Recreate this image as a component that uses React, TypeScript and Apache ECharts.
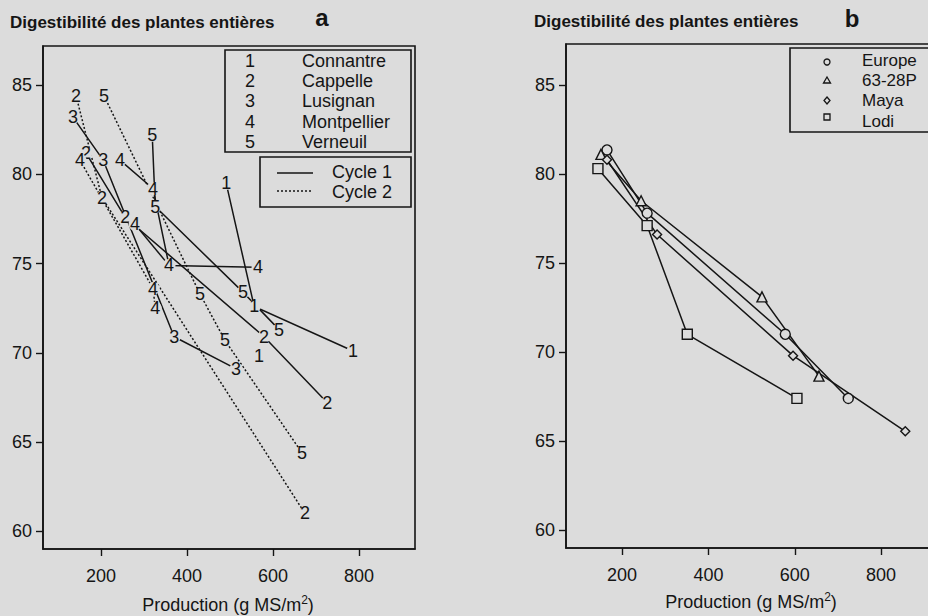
import React, { useEffect, useRef } from 'react';
import * as echarts from 'echarts';

const BG = '#dcdcdc';
const INK = '#151515';
const FONT = '"Liberation Sans", Arial, Helvetica, sans-serif';

// ---------- Panel a : sites (label code) x cycles ----------
const siteCodes = ['1', '2', '3', '4', '5'];
const siteNames = ['Connantre', 'Cappelle', 'Lusignan', 'Montpellier', 'Verneuil'];
const cycleNames = ['Cycle 1', 'Cycle 2'];

const connantreCycle1 = [[491, 79.5], [556, 72.6], [786, 70.1]];
const connantreCycle2 = [[567, 69.8]];
const cappelleCycle1 = [[165, 81.2], [256, 77.6], [579, 70.9], [726, 67.2]];
const cappelleCycle2 = [[142, 84.4], [202, 78.7], [674, 61.0]];
const lusignanCycle1 = [[135, 83.2], [205, 80.8], [370, 70.9], [514, 69.1]];
const montpellierCycle1 = [[244, 80.8], [321, 79.2], [358, 74.9], [565, 74.8]];
const montpellierCycle1b = [[279, 77.2], [358, 74.9]];
const montpellierCycle2 = [[151, 80.8], [321, 73.6], [326, 72.5]];
const verneuilCycle1 = [[319, 82.2], [326, 78.2], [530, 73.4], [614, 71.3]];
const verneuilCycle2 = [[207, 84.4], [430, 73.3], [488, 70.7], [667, 64.4]];

const tracesA = [
  { site: '1', cycle: 1, pts: connantreCycle1 },
  { site: '1', cycle: 2, pts: connantreCycle2 },
  { site: '2', cycle: 1, pts: cappelleCycle1 },
  { site: '2', cycle: 2, pts: cappelleCycle2 },
  { site: '3', cycle: 1, pts: lusignanCycle1 },
  { site: '4', cycle: 1, pts: montpellierCycle1 },
  { site: '4', cycle: 1, pts: montpellierCycle1b },
  { site: '4', cycle: 2, pts: montpellierCycle2 },
  { site: '5', cycle: 1, pts: verneuilCycle1 },
  { site: '5', cycle: 2, pts: verneuilCycle2 },
];

// ---------- Panel b : varieties ----------
const varietyNames = ['Europe', '63-28P', 'Maya', 'Lodi'];
const europe = [[165, 81.35], [258, 77.8], [578, 71.0], [724, 67.4]];
const p6328 = [[151, 81.1], [244, 78.5], [524, 73.1], [656, 68.65]];
const maya = [[165, 80.8], [281, 76.6], [596, 69.8], [856, 65.55]];
const lodi = [[144, 80.3], [258, 77.1], [351, 71.0], [605, 67.4]];

const xTicks = [200, 400, 600, 800];
const yTicks = [60, 65, 70, 75, 80, 85];

const titleText = 'Digestibilité des plantes entières';

function makeXAxis(gridIndex: number, min: number, max: number) {
  return {
    gridIndex, type: 'value', min, max,
    axisLine: { show: true, lineStyle: { color: INK, width: 1.6 } },
    axisTick: { show: true, length: 7, customValues: xTicks, lineStyle: { color: INK, width: 1.4 } },
    axisLabel: { customValues: xTicks, margin: 18, color: INK, fontSize: 18, fontFamily: FONT },
    splitLine: { show: false },
  };
}
function makeYAxis(gridIndex: number, min: number, max: number) {
  return {
    gridIndex, type: 'value', min, max,
    axisLine: { show: true, lineStyle: { color: INK, width: 1.6 } },
    axisTick: { show: true, length: 7, customValues: yTicks, lineStyle: { color: INK, width: 1.4 } },
    axisLabel: { customValues: yTicks, margin: 11, color: INK, fontSize: 18, fontFamily: FONT },
    splitLine: { show: false },
  };
}

function txt(x: number, y: number, text: string, size: number, opts: any = {}) {
  return {
    type: 'text', x, y, silent: true,
    style: {
      text, fill: INK, fontSize: size, fontFamily: FONT,
      fontWeight: opts.bold ? 'bold' : 'normal',
      align: opts.align || 'left', verticalAlign: 'middle',
      rich: opts.rich,
    },
  };
}

export default function App() {
  const ref = useRef<HTMLDivElement>(null);
  useEffect(() => {
    if (!ref.current) return;
    const chart = echarts.init(ref.current, undefined, { renderer: 'svg' });

    const series: any[] = [];
    tracesA.forEach((t) => {
      series.push({
        type: 'line', xAxisIndex: 0, yAxisIndex: 0, data: t.pts, symbol: 'none', z: 2,
        lineStyle: { color: INK, width: 1.5, type: t.cycle === 1 ? 'solid' : [2, 2] },
        silent: true,
      });
    });
    siteCodes.forEach((code) => {
      const seen: Record<string, boolean> = {};
      const pts: number[][] = [];
      tracesA.filter((t) => t.site === code).forEach((t) => t.pts.forEach((p) => {
        const k = p[0] + ',' + p[1];
        if (!seen[k]) { seen[k] = true; pts.push(p); }
      }));
      series.push({
        type: 'custom', xAxisIndex: 0, yAxisIndex: 0, data: pts, z: 3, silent: true,
        encode: { x: 0, y: 1 },
        renderItem: (params: any, api: any) => {
          const c = api.coord([api.value(0), api.value(1)]);
          return {
            type: 'group',
            children: [
              { type: 'circle', shape: { cx: c[0], cy: c[1], r: 6.5 }, style: { fill: BG } },
              {
                type: 'text', x: c[0], y: c[1],
                style: { text: code, fill: INK, fontSize: 18, fontFamily: FONT, align: 'center', verticalAlign: 'middle' },
              },
            ],
          };
        },
      });
    });

    const bSets = [
      { data: europe, symbol: 'circle', size: 10 },
      { data: p6328, symbol: 'triangle', size: 10 },
      { data: maya, symbol: 'diamond', size: 9 },
      { data: lodi, symbol: 'rect', size: 10 },
    ];
    bSets.forEach((s, i) => {
      series.push({
        name: varietyNames[i], type: 'line', xAxisIndex: 1, yAxisIndex: 1, data: s.data, z: 2, silent: true,
        symbol: s.symbol, symbolSize: s.size, showSymbol: true,
        lineStyle: { color: INK, width: 1.5 },
        itemStyle: { color: BG, borderColor: INK, borderWidth: 1.4 },
      });
    });

    const rich = { sup: { fontSize: 12, fontFamily: FONT, fill: INK, padding: [0, 0, 10, 0] } } as any;
    const graphics: any[] = [
      txt(10, 22, titleText, 17, { bold: true }),
      txt(322, 17, 'a', 24, { bold: true, align: 'center' }),
      txt(534, 21, titleText, 17, { bold: true }),
      txt(852, 18, 'b', 24, { bold: true, align: 'center' }),
      txt(228, 605, 'Production (g MS/m{sup|2})', 18, { align: 'center', rich }),
      txt(751, 602, 'Production (g MS/m{sup|2})', 18, { align: 'center', rich }),
      // legend a : sites
      { type: 'rect', shape: { x: 225, y: 50, width: 186, height: 102 }, silent: true, z: 10,
        style: { fill: BG, stroke: INK, lineWidth: 1.6 } },
      // legend a : cycles
      { type: 'rect', shape: { x: 260, y: 157, width: 151, height: 50 }, silent: true, z: 10,
        style: { fill: BG, stroke: INK, lineWidth: 1.6 } },
      { type: 'line', shape: { x1: 277, y1: 173, x2: 313, y2: 173 }, silent: true, z: 11,
        style: { stroke: INK, lineWidth: 1.5 } },
      { type: 'line', shape: { x1: 277, y1: 191, x2: 313, y2: 191 }, silent: true, z: 11,
        style: { stroke: INK, lineWidth: 1.5, lineDash: [2, 2] } },
      // legend b
      { type: 'rect', shape: { x: 790, y: 48, width: 200, height: 84 }, silent: true, z: 10,
        style: { fill: BG, stroke: INK, lineWidth: 1.6 } },
      { type: 'circle', shape: { cx: 827, cy: 62, r: 3 }, silent: true, z: 11,
        style: { fill: BG, stroke: INK, lineWidth: 1.3 } },
      { type: 'polygon', shape: { points: [[827, 77], [830.5, 83], [823.5, 83]] }, silent: true, z: 11,
        style: { fill: BG, stroke: INK, lineWidth: 1.3 } },
      { type: 'polygon', shape: { points: [[827, 97], [830, 100.5], [827, 104], [824, 100.5]] }, silent: true, z: 11,
        style: { fill: BG, stroke: INK, lineWidth: 1.3 } },
      { type: 'rect', shape: { x: 824, y: 114, width: 6, height: 6 }, silent: true, z: 11,
        style: { fill: BG, stroke: INK, lineWidth: 1.3 } },
    ];
    const rowsA = [60.7, 80.7, 100.7, 121.7, 141.7];
    siteCodes.forEach((c, i) => {
      graphics.push({ ...txt(250, rowsA[i], c, 18, { align: 'center' }), z: 12 });
      graphics.push({ ...txt(302, rowsA[i], siteNames[i], 18), z: 12 });
    });
    graphics.push({ ...txt(332, 171.7, cycleNames[0], 18), z: 12 });
    graphics.push({ ...txt(332, 191.7, cycleNames[1], 18), z: 12 });
    const rowsB = [60.7, 80.7, 100.5, 121];
    varietyNames.forEach((n, i) => {
      graphics.push({ ...txt(862, rowsB[i], n, 17), z: 12 });
    });

    chart.setOption({
      animation: false,
      backgroundColor: BG,
      color: [INK],
      textStyle: { fontFamily: FONT },
      grid: [
        { left: 43, top: 46, width: 372, height: 503, show: true, borderColor: INK, borderWidth: 1.6,
          backgroundColor: BG, containLabel: false, outerBoundsMode: 'none' },
        { left: 566, top: 44, width: 420, height: 504, show: true, borderColor: INK, borderWidth: 1.6,
          backgroundColor: BG, containLabel: false, outerBoundsMode: 'none' },
      ],
      xAxis: [makeXAxis(0, 65, 930), makeXAxis(1, 70, 1043)],
      yAxis: [makeYAxis(0, 59, 87.2), makeYAxis(1, 59, 87.3)],
      series,
      graphic: graphics,
    });
    return () => chart.dispose();
  }, []);
  return (
    <div ref={ref} style={{ position: 'fixed', left: 0, top: 0, width: 928, height: 616, background: BG }} />
  );
}
